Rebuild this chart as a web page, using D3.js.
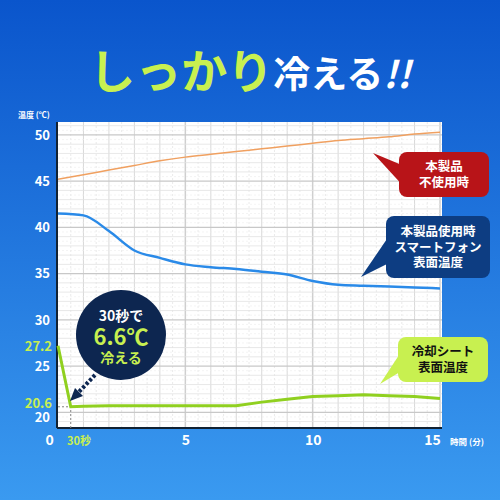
<!DOCTYPE html>
<html><head><meta charset="utf-8">
<script src="https://cdn.jsdelivr.net/npm/d3@7"></script>
<style>body{margin:0}svg{display:block}text{font-family:"Noto Sans CJK JP","Noto Sans",sans-serif;font-weight:bold}</style>
</head><body><svg id="c" width="500" height="500"></svg>
<script>
const xTicks=[0,5,10,15];
const yTicks=[20,25,30,35,40,45,50];
const orangeX=[0,1,2,3,4,5,6,7,8,9,10,11,12,13,14,15];
const orangeY=[45.2,45.7,46.2,46.7,47.2,47.6,47.9,48.2,48.5,48.8,49.1,49.4,49.6,49.8,50.1,50.3];
const blueX=[0,1,2,3,4,5,6,7,8,9,10,11,12,13,14,15];
const blueY=[41.5,41.3,39.6,37.5,36.7,36.0,35.7,35.5,35.2,34.9,34.2,33.8,33.7,33.6,33.5,33.4];
const greenX=[0,0.5,1,2,3,4,5,6,7,8,9,10,11,12,13,14,15];
const greenY=[27.2,20.6,20.65,20.7,20.7,20.7,20.7,20.7,20.7,21.1,21.4,21.7,21.8,21.9,21.8,21.7,21.5];

const svg=d3.select("#c");
const defs=svg.append("defs");
const g=defs.append("linearGradient").attr("id","bg").attr("x1",0).attr("y1",0).attr("x2",0).attr("y2",1);
g.append("stop").attr("offset","0%").attr("stop-color","#0a55cc");
g.append("stop").attr("offset","100%").attr("stop-color","#3a9af0");
svg.append("rect").attr("width",500).attr("height",500).attr("fill","url(#bg)");

const x=d3.scaleLinear().domain([0,15]).range([58,440]);
const y=d3.scaleLinear().domain([18.3,51.4]).range([428,122]);
svg.append("rect").attr("x",58).attr("y",122).attr("width",384).attr("height",306).attr("fill","#fff");
const gr=svg.append("g");
for(let v=0.5;v<=15;v+=0.5){gr.append("line").attr("x1",x(v)).attr("x2",x(v)).attr("y1",122).attr("y2",428)
 .attr("stroke",v%1===0?"#cfcfcf":"#e4e4e4").attr("stroke-dasharray",v%1===0?null:"2,2").attr("stroke-width",v%5===0?1.5:0.8);}
for(let v=19;v<=51;v+=1){gr.append("line").attr("x1",58).attr("x2",442).attr("y1",y(v)).attr("y2",y(v))
 .attr("stroke",v%5===0?"#c8c8c8":"#e2e2e2").attr("stroke-width",v%5===0?1.3:0.8);}
for(let v=19.5;v<=51;v+=1){gr.append("line").attr("x1",58).attr("x2",442).attr("y1",y(v)).attr("y2",y(v)).attr("stroke","#ececec").attr("stroke-dasharray","2,2").attr("stroke-width",0.6);}
svg.append("line").attr("x1",57).attr("x2",57).attr("y1",122).attr("y2",428).attr("stroke","#123").attr("stroke-width",2);
svg.append("line").attr("x1",57).attr("x2",442).attr("y1",428).attr("y2",428).attr("stroke","#123").attr("stroke-width",2);

const yA=svg.append("g").attr("transform","translate(50,0)").call(d3.axisLeft(y).tickValues(yTicks).tickSize(0).tickPadding(0));
yA.select(".domain").remove();
yA.selectAll("text").attr("fill","#fff").attr("font-size",13).attr("font-family","Roboto,sans-serif").attr("font-weight","bold");
yA.selectAll(".tick").filter(d=>d===20).select("text").attr("y",5);
const xA=svg.append("g").attr("transform","translate(0,432)").call(d3.axisBottom(x).tickValues(xTicks).tickSize(0).tickPadding(0));
xA.select(".domain").remove();
xA.selectAll("text").attr("fill","#fff").attr("font-size",14).attr("font-family","Roboto,sans-serif").attr("font-weight","bold").attr("dy","0.9em");
xA.selectAll(".tick").filter(d=>d===0).select("text").attr("x",-9);
xA.selectAll(".tick").filter(d=>d===15).select("text").attr("x",-8);

svg.append("text").attr("x",18).attr("y",118).attr("fill","#fff").attr("font-size",8).text("温度 (℃)");
svg.append("text").attr("x",450).attr("y",445).attr("fill","#fff").attr("font-size",8.5).text("時間 (分)");
svg.append("text").attr("x",52).attr("y",y(27.2)+5).attr("text-anchor","end").attr("fill","#c8f050").attr("font-size",13).attr("font-family","Roboto,sans-serif").text("27.2");
svg.append("text").attr("x",52).attr("y",y(20.6)+1).attr("text-anchor","end").attr("fill","#c8f050").attr("font-size",13).attr("font-family","Roboto,sans-serif").text("20.6");
svg.append("text").attr("x",67).attr("y",445).attr("fill","#c8f050").attr("font-size",11).text("30秒");
svg.append("path").attr("d",`M58,${y(20.6)}H${x(0.5)}V428`).attr("fill","none").attr("stroke","#888").attr("stroke-dasharray","2,2");

const line=d3.line().x(d=>x(d[0])).y(d=>y(d[1])).curve(d3.curveMonotoneX);
svg.append("path").attr("d",line(orangeX.map((v,i)=>[v,orangeY[i]]))).attr("fill","none").attr("stroke","#f0a060").attr("stroke-width",1.5);
svg.append("path").attr("d",line(blueX.map((v,i)=>[v,blueY[i]]))).attr("fill","none").attr("stroke","#2a8ae8").attr("stroke-width",2.5);
svg.append("path").attr("d",d3.line().x(d=>x(d[0])).y(d=>y(d[1]))(greenX.map((v,i)=>[v,greenY[i]]))).attr("fill","none").attr("stroke","#90d020").attr("stroke-width",3);

function callout(cx,cy,w,h,fill,tip,lines,color,fs){
 svg.append("path").attr("d",`M${cx+4},${cy+h*0.3} L${tip[0]},${tip[1]} L${cx+4},${cy+h*0.75}Z`).attr("fill",fill);
 svg.append("rect").attr("x",cx).attr("y",cy).attr("width",w).attr("height",h).attr("rx",8).attr("fill",fill);
 lines.forEach((t,i)=>svg.append("text").attr("x",cx+w/2).attr("y",cy+h/2+(i-(lines.length-1)/2)*fs*1.25+fs*0.36).attr("text-anchor","middle").attr("fill",color).attr("font-size",fs).text(t));
}
callout(399,152,90,45,"#b81418",[373,153],["本製品","不使用時"],"#fff",12.5);
callout(386,216,104,62,"#0d3d82",[361,277],["本製品使用時","スマートフォン","表面温度"],"#fff",12.5);
callout(398,337,90,45,"#c8f050",[380,384],["冷却シート","表面温度"],"#111",12.5);

svg.append("line").attr("x1",95).attr("y1",375).attr("x2",76).attr("y2",395).attr("stroke","#0d2650").attr("stroke-width",4).attr("stroke-dasharray","3,2");
svg.append("path").attr("d","M70,401 L75,388 L83,396Z").attr("fill","#0d2650");
svg.append("circle").attr("cx",121).attr("cy",335).attr("r",45).attr("fill","#0d2650");
svg.append("text").attr("x",121).attr("y",321).attr("text-anchor","middle").attr("fill","#fff").attr("font-size",14).text("30秒で");
svg.append("text").attr("x",121).attr("y",345).attr("text-anchor","middle").attr("fill","#c8f050").attr("font-size",22).attr("font-family","Roboto,sans-serif").attr("font-weight",900).text("6.6℃");
svg.append("text").attr("x",121).attr("y",363).attr("text-anchor","middle").attr("fill","#c8f050").attr("font-size",14).text("冷える");

const t=svg.append("text").attr("x",250).attr("y",88).attr("text-anchor","middle").attr("font-weight",900);
t.append("tspan").attr("fill","#c8f050").attr("font-size",46).text("しっかり");
t.append("tspan").attr("fill","#fff").attr("font-size",37).text("冷える");
t.append("tspan").attr("fill","#fff").attr("font-size",37).attr("font-style","italic").text("!!");
</script></body></html>
